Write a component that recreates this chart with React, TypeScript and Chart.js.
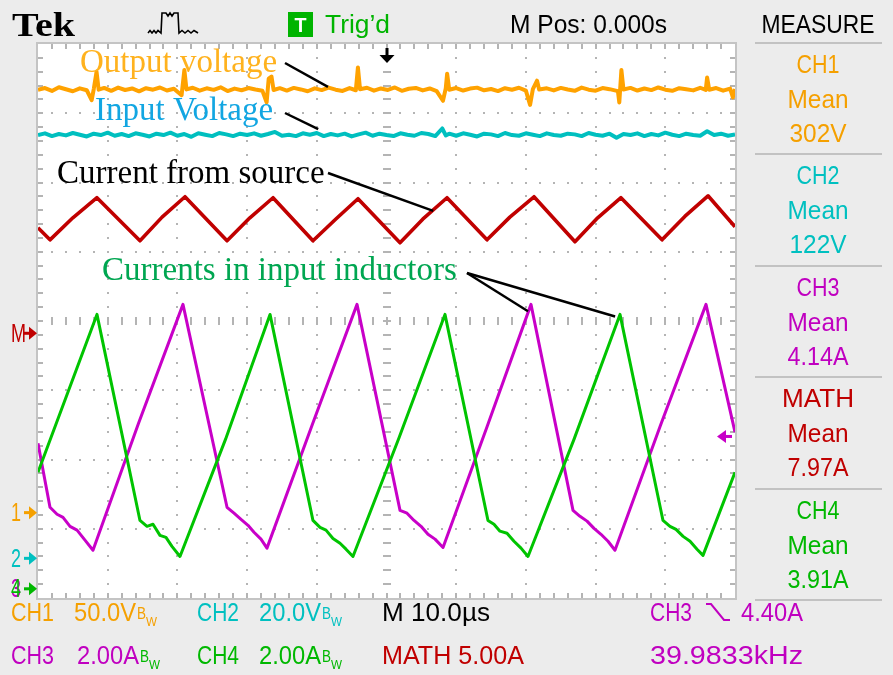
import React, { useEffect, useRef } from "react";
import { Chart, registerables } from "chart.js";

Chart.register(...registerables);

const WIDTH = 893;
const HEIGHT = 675;

// Horizontal: 10 µs/div, 10 divisions, M Pos 0.000s at centre
const TIME_PER_DIV = 10;
const TIME_MIN = -5 * TIME_PER_DIV;
const TIME_MAX = 5 * TIME_PER_DIV;

// Vertical settings: units per division and ground-marker position (divisions from screen centre)
const CH1_PER_DIV = 50;
const CH2_PER_DIV = 20;
const CH3_PER_DIV = 2;
const CH4_PER_DIV = 2;
const MATH_PER_DIV = 5;
const CH1_POS = -2.76;
const CH2_POS = -3.42;
const CH3_POS = -3.86;
const CH4_POS = -3.86;
const MATH_POS = -0.17;

// Trigger: CH3 falling edge
const TRIGGER_LEVEL = 4.4;
const TRIGGER_FREQ = "39.9833kHz";

// CH1 - output voltage (V)
const ch1Time = [
  -50, -49, -48, -47, -46, -45, -44, -43, -42.3, -42, -41.6, -41.3, -40.5, -39.5, -38.5, -37.5,
  -36.5, -35.5, -34.5, -33.5, -32.5, -31.5, -30.5, -29.4, -29, -28.7, -27.8, -26.8, -25.8, -24.8,
  -23.8, -22.8, -21.8, -20.8, -19.8, -18.8, -17.8, -17.2, -16.9, -16.5, -16.2, -15.3, -14.3, -13.3,
  -12.3, -11.3, -10.3, -9.3, -8.3, -7.3, -6.3, -5.3, -4.4, -4.1, -3.8, -2.8, -1.8, -0.8, 0.2, 1.2,
  2.2, 3.2, 4.2, 5.2, 6.2, 7.2, 8.1, 8.5, 8.7, 9, 10, 11, 12, 13, 14, 15, 16, 17, 18, 19, 20, 20.6,
  21, 21.6, 21.9, 23, 24, 25, 26, 27, 28, 29, 30, 31, 32, 33.2, 33.4, 33.7, 34, 35, 36, 37, 38, 39,
  40, 41, 42, 43, 44, 45, 45.8, 46, 46.3, 47.3, 48.3, 49.3, 49.7, 50,
];
const ch1Volts = [
  305.0, 306.2, 304.1, 306.8, 305.3, 303.9, 306.0, 304.6, 297.5, 305.5, 318.0, 305.0, 306.3, 304.2, 306.5, 304.8,
  305.9, 303.8, 306.1, 305.0, 306.6, 304.4, 305.7, 301.0, 319.2, 305.2, 306.4, 304.3, 306.0, 304.9,
  306.7, 304.0, 305.8, 304.6, 306.2, 305.1, 304.2, 295.8, 313.0, 314.5, 304.8, 306.1, 304.4, 306.3,
  305.2, 303.9, 306.0, 304.7, 306.5, 305.0, 304.1, 306.2, 304.6, 321.0, 305.3, 306.4, 304.3, 305.9, 304.8, 306.6,
  304.2, 305.7, 306.3, 304.5, 305.9, 304.0, 297.0, 306.0, 316.5, 305.0, 306.2, 304.4, 305.8, 306.5, 304.6, 305.5, 304.0, 306.1, 305.0, 306.4, 304.3, 294.0,
  305.4, 311.5, 305.2, 306.0, 304.5, 306.3, 305.1, 304.2, 306.5, 305.0, 304.3, 306.2, 305.4, 304.0, 295.8, 319.2, 305.2, 306.3, 304.4, 305.9, 304.7, 306.6,
  305.0, 304.2, 306.1, 305.3, 304.5, 306.4, 304.8, 313.8, 305.0, 306.2, 304.3, 305.8, 299.5, 305.5,
];

// CH2 - input voltage (V)
const ch2Time = [
  -50, -49, -48, -47, -46, -45, -44, -43, -42, -41, -40, -39, -38, -37, -36, -35, -34, -33, -32, -31,
  -30, -29, -28, -27, -26, -25, -24, -23, -22, -21, -20, -19, -18, -17, -16, -15, -14, -13, -12, -11,
  -10, -9, -8, -7, -6, -5, -4, -3, -2, -1, 0, 1, 2, 3, 4, 5, 6, 7, 8, 8.5, 9, 10, 11, 12, 13, 14, 15,
  16, 17, 18, 19, 20, 21, 22, 23, 24, 25, 26, 27, 28, 29, 30, 31, 32, 33, 34, 35, 36, 37, 38, 39, 40,
  41, 42, 43, 44, 45, 46, 47, 48, 49, 50,
];
const ch2Volts = [
  122.1, 122.6, 121.8, 122.4, 122.0, 122.7, 122.2, 121.7, 122.5, 122.1, 122.8, 121.9, 122.4, 121.8, 122.6, 122.2, 121.7, 122.5, 122.1, 122.8,
  121.9, 122.4, 121.6, 122.6, 122.2, 121.8, 122.7, 122.3, 121.8, 122.5, 122.1, 122.6, 121.9, 122.4, 123.0, 121.9, 122.2, 121.8, 122.6, 122.2,
  122.7, 121.8, 122.4, 122.0, 122.5, 121.7, 122.3, 122.8, 121.9, 122.5, 122.1, 121.8, 122.6, 122.2, 121.9, 122.7, 122.4, 121.8, 124.0, 122.0, 122.5, 121.9, 122.6, 122.2, 121.7, 122.5, 122.3,
  121.8, 122.7, 122.1, 121.9, 122.6, 122.2, 121.8, 122.6, 122.1, 121.9, 122.5, 122.3, 121.8, 122.7, 122.2, 121.9, 122.5, 121.3, 122.4, 122.1, 122.6, 121.8, 122.4, 122.0, 122.8,
  122.2, 121.8, 122.5, 122.1, 121.9, 123.2, 122.1, 122.5, 121.9, 122.3,
];

// CH3 - inductor current, phase A (A)
const ch3Time = [
  -50, -48.28, -47.27, -46.41, -45.41, -44.4, -43.26, -42.11, -35.6, -29.2, -22.88, -21.88, -20.87, -19.87,
  -19.01, -18.01, -17.15, -10.6, -4.23, 1.94, 2.94, 3.95, 4.95, 5.95, 6.96, 8.11, 14.4, 20.73, 26.76, 27.76, 28.77,
  29.77, 30.77, 31.78, 32.78, 39.3, 45.84, 50,
];
const ch3Amps = [
  4.19, 2.34, 2.14, 2.05, 1.79, 1.68, 1.39, 1.1, 4.75, 8.2, 2.34, 2.17, 1.99, 1.82,
  1.62, 1.42, 1.16, 4.75, 8.2, 2.25, 2.17, 1.96, 1.79, 1.56, 1.42, 1.18, 4.65, 8.2, 2.25, 2.08, 1.94,
  1.73, 1.56, 1.36, 1.1, 4.7, 8.2, 4.51,
];

// CH4 - inductor current, phase B (A)
const ch4Time = [
  -50, -41.54, -35.37, -34.36, -33.5, -32.5, -31.64, -30.78, -29.63, -23.1, -16.71, -10.55, -9.54, -8.68,
  -7.68, -6.67, -5.81, -4.81, 1.8, 8.39, 14.56, 15.42, 16.28, 17.29, 18.29, 19.3, 20.3, 26.9, 33.5, 39.67,
  40.67, 41.54, 42.55, 43.55, 44.55, 45.41, 50,
];
const ch4Amps = [
  3.35, 7.91, 1.96, 1.79, 1.85, 1.53, 1.47, 1.21, 0.92, 4.3, 7.91, 1.96, 1.76, 1.68,
  1.44, 1.3, 1.13, 0.92, 4.35, 7.91, 1.96, 1.85, 1.65, 1.59, 1.36, 1.16, 0.92, 4.3, 7.91, 1.96,
  1.79, 1.7, 1.5, 1.36, 1.13, 0.95, 3.35,
];

// MATH - current drawn from the source (A)
const mathTime = [
  -50, -48.28, -45.0, -41.54, -35.37, -32.2, -28.91, -22.88, -19.6, -16.28, -10.55, -7.3, -4.09, 1.94,
  5.2, 8.68, 14.42, 17.7, 21.16, 27.04, 30.3, 33.64, 39.53, 42.8, 46.13, 50,
];
const mathAmps = [
  7.58, 6.71, 8.3, 9.75, 6.64, 8.35, 9.82, 6.64, 8.3, 9.75, 6.64, 8.2, 9.68, 6.5,
  8.2, 9.75, 6.71, 8.35, 9.82, 6.57, 8.3, 9.75, 6.71, 8.4, 9.89, 7.65,
];

// MEASURE panel readouts
const measureSources = ["CH1", "CH2", "CH3", "MATH", "CH4"];
const measureValues = ["302V", "122V", "4.14A", "7.97A", "3.91A"];

const C_CH1 = "#ffa200";
const C_CH2 = "#00bfbf";
const C_CH3 = "#c800c8";
const C_CH4 = "#00c400";
const C_MATH = "#c00000";
const T_CH1 = "#f5a000";
const T_CH2 = "#00c0c0";
const T_CH3 = "#c000c0";
const T_CH4 = "#00b800";
const T_MATH = "#c00000";
const SCREEN_BG = "#ececec";
const GRID = "#b4b4b4";
const UI_FONT = "'Liberation Sans', Arial, sans-serif";
const SERIF = "'Liberation Serif', 'Times New Roman', serif";

const measureColors = [T_CH1, T_CH2, T_CH3, T_MATH, T_CH4];

const pairs = (xs: number[], ys: number[]) => xs.map((x, i) => ({ x, y: ys[i] }));

function axisRange(perDiv: number, pos: number) {
  return { min: (-4 - pos) * perDiv, max: (4 - pos) * perDiv };
}

// Draws text squeezed/stretched to a given width
function fitText(
  ctx: CanvasRenderingContext2D,
  s: string,
  x: number,
  y: number,
  font: string,
  color: string,
  width?: number,
  align: "left" | "center" = "left"
) {
  ctx.save();
  ctx.font = font;
  ctx.fillStyle = color;
  ctx.textBaseline = "alphabetic";
  ctx.textAlign = "left";
  const w = ctx.measureText(s).width;
  const sx = width ? width / w : 1;
  const x0 = align === "center" ? x - (w * sx) / 2 : x;
  ctx.translate(x0, y);
  ctx.scale(sx, 1);
  ctx.fillText(s, 0, 0);
  ctx.restore();
}

// Bandwidth-limit badge: B with subscript W
function bwBadge(ctx: CanvasRenderingContext2D, x: number, y: number, color: string) {
  fitText(ctx, "B", x, y - 2, `16px ${UI_FONT}`, color, 9);
  fitText(ctx, "W", x + 9, y + 5, `13px ${UI_FONT}`, color, 11);
}

function drawGraticule(ctx: CanvasRenderingContext2D, a: { left: number; right: number; top: number; bottom: number }) {
  const dx = (a.right - a.left) / 10;
  const dy = (a.bottom - a.top) / 8;
  const cx = a.left + 5 * dx;
  const cy = a.top + 4 * dy;
  ctx.fillStyle = GRID;
  for (let k = 1; k < 10; k++) {
    if (k === 5) continue;
    const x = Math.round(a.left + k * dx);
    for (let j = 1; j < 40; j++) ctx.fillRect(x - 1, Math.round(a.top + (j * dy) / 5) - 1, 2, 2);
  }
  for (let k = 1; k < 8; k++) {
    if (k === 4) continue;
    const y = Math.round(a.top + k * dy);
    for (let j = 1; j < 50; j++) ctx.fillRect(Math.round(a.left + (j * dx) / 5) - 1, y - 1, 2, 2);
  }
  // centre axes with minor ticks
  for (let j = 1; j < 40; j++) ctx.fillRect(Math.round(cx) - 4, Math.round(a.top + (j * dy) / 5) - 1, 8, 2);
  for (let j = 1; j < 50; j++) ctx.fillRect(Math.round(a.left + (j * dx) / 5) - 1, Math.round(cy) - 4, 2, 8);
  // frame ticks
  for (let j = 1; j < 50; j++) {
    const x = Math.round(a.left + (j * dx) / 5);
    ctx.fillRect(x - 1, a.top, 2, 5);
    ctx.fillRect(x - 1, a.bottom - 5, 2, 5);
  }
  for (let j = 1; j < 40; j++) {
    const y = Math.round(a.top + (j * dy) / 5);
    ctx.fillRect(a.left, y - 1, 5, 2);
    ctx.fillRect(a.right - 5, y - 1, 5, 2);
  }
  ctx.strokeStyle = "#c4c4c4";
  ctx.lineWidth = 2;
  ctx.strokeRect(a.left - 1, a.top - 1, a.right - a.left + 2, a.bottom - a.top + 2);
}

function groundMarker(ctx: CanvasRenderingContext2D, label: string, y: number, color: string, arrowColor?: string) {
  fitText(ctx, label, 11, y + 9, `25px ${UI_FONT}`, color, label === "M" ? 15 : 10);
  ctx.fillStyle = arrowColor || color;
  ctx.fillRect(24, y - 1, 6, 3);
  ctx.beginPath();
  ctx.moveTo(29, y - 6);
  ctx.lineTo(37, y + 0.5);
  ctx.lineTo(29, y + 7);
  ctx.closePath();
  ctx.fill();
}

const scopePlugin = {
  id: "scopeScreen",
  beforeDraw(chart: any) {
    const { ctx, chartArea: a } = chart;
    ctx.save();
    ctx.fillStyle = SCREEN_BG;
    ctx.fillRect(0, 0, chart.width, chart.height);
    ctx.fillStyle = "#ffffff";
    ctx.fillRect(a.left, a.top, a.right - a.left, a.bottom - a.top);
    drawGraticule(ctx, a);
    ctx.restore();
  },
  afterDatasetsDraw(chart: any) {
    const { ctx, chartArea: a, scales } = chart;
    const sx = scales.x;
    ctx.save();

    // callouts
    ctx.font = `33px ${SERIF}`;
    ctx.textBaseline = "alphabetic";
    ctx.fillStyle = "#ffb21e";
    ctx.fillText("Output voltage", 80, 72);
    ctx.fillStyle = "#12a6e2";
    ctx.fillText("Input Voltage", 95, 120);
    ctx.fillStyle = "#000000";
    ctx.fillText("Current from source", 57, 183);
    ctx.fillStyle = "#00a651";
    ctx.fillText("Currents in input inductors", 102, 280);

    ctx.strokeStyle = "#000000";
    ctx.lineWidth = 2.5;
    const leader = (x0: number, y0: number, t: number, axis: string, v: number) => {
      ctx.beginPath();
      ctx.moveTo(x0, y0);
      ctx.lineTo(sx.getPixelForValue(t), scales[axis].getPixelForValue(v));
      ctx.stroke();
    };
    leader(285, 63, -8.4, "yCh1", 307);
    leader(285, 113, -9.8, "yCh2", 123.8);
    leader(328, 173, 6.7, "yMath", 8.8);
    leader(467, 273, 20.3, "yCh3", 8.0);
    leader(467, 273, 32.8, "yCh4", 7.85);

    // trigger position arrow
    const tx = sx.getPixelForValue(0);
    ctx.fillStyle = "#000000";
    ctx.fillRect(tx - 1, a.top + 4, 3, 8);
    ctx.beginPath();
    ctx.moveTo(tx - 7, a.top + 11);
    ctx.lineTo(tx + 8, a.top + 11);
    ctx.lineTo(tx + 0.5, a.top + 19);
    ctx.closePath();
    ctx.fill();

    // trigger level arrow (CH3)
    const ty = scales.yCh3.getPixelForValue(TRIGGER_LEVEL);
    ctx.fillStyle = C_CH3;
    ctx.fillRect(a.right - 10, ty - 1, 7, 3);
    ctx.beginPath();
    ctx.moveTo(a.right - 18, ty + 0.5);
    ctx.lineTo(a.right - 9, ty - 6);
    ctx.lineTo(a.right - 9, ty + 7);
    ctx.closePath();
    ctx.fill();

    // ground markers
    const cy = (a.top + a.bottom) / 2;
    const dy = (a.bottom - a.top) / 8;
    groundMarker(ctx, "M", cy - MATH_POS * dy, C_MATH);
    groundMarker(ctx, "1", cy - CH1_POS * dy, T_CH1);
    groundMarker(ctx, "2", cy - CH2_POS * dy, T_CH2);
    groundMarker(ctx, "3", cy - CH3_POS * dy, T_CH3, T_CH4);
    fitText(ctx, "4", 11, cy - CH4_POS * dy + 9, `25px ${UI_FONT}`, T_CH4, 10);
    ctx.restore();
  },
  afterDraw(chart: any) {
    const { ctx } = chart;
    ctx.save();

    // header
    fitText(ctx, "Tek", 12, 36, `bold 33px ${SERIF}`, "#000000", 63);
    ctx.strokeStyle = "#000000";
    ctx.lineWidth = 1.6;
    ctx.beginPath();
    ctx.moveTo(148, 33);
    [150, 152, 154, 156, 158].forEach((x, i) => ctx.lineTo(x, i % 2 ? 33 : 30.5));
    ctx.lineTo(161, 33);
    ctx.lineTo(162, 13);
    ctx.lineTo(166, 13);
    ctx.lineTo(168, 16);
    ctx.lineTo(170, 13);
    ctx.lineTo(172, 16);
    ctx.lineTo(174, 13);
    ctx.lineTo(178, 13);
    ctx.lineTo(179, 33);
    [182, 185, 188, 191, 194].forEach((x, i) => ctx.lineTo(x, i % 2 ? 33 : 30.5));
    ctx.lineTo(198, 33);
    ctx.stroke();

    ctx.fillStyle = "#00b400";
    ctx.fillRect(288, 12, 25, 25);
    fitText(ctx, "T", 300.5, 32, `bold 21px ${UI_FONT}`, "#ffffff", 12, "center");
    fitText(ctx, "Trig’d", 325, 33, `25px ${UI_FONT}`, "#00b400", 65);
    fitText(ctx, "M Pos: 0.000s", 510, 33, `25px ${UI_FONT}`, "#000000", 157);
    fitText(ctx, "MEASURE", 818, 33, `26px ${UI_FONT}`, "#000000", 113, "center");

    // measurement panel
    ctx.strokeStyle = "#c2c2c2";
    ctx.lineWidth = 2;
    for (let k = 0; k <= 5; k++) {
      const y = Math.round(43 + 111.4 * k);
      ctx.beginPath();
      ctx.moveTo(755, y);
      ctx.lineTo(882, y);
      ctx.stroke();
    }
    measureSources.forEach((src, k) => {
      const y0 = 43 + 111.4 * k;
      const col = measureColors[k];
      fitText(ctx, src, 818, y0 + 30, `25px ${UI_FONT}`, col, src.length === 4 ? 72 : 43, "center");
      fitText(ctx, "Mean", 818, y0 + 65, `25px ${UI_FONT}`, col, 61, "center");
      const v = measureValues[k];
      fitText(ctx, v, 818, y0 + 99, `25px ${UI_FONT}`, col, v.length === 4 ? 57 : 61, "center");
    });

    // footer readouts
    const f = `25px ${UI_FONT}`;
    const r1 = 621;
    const r2 = 664;
    fitText(ctx, "CH1", 11, r1, f, T_CH1, 43);
    fitText(ctx, `${CH1_PER_DIV.toFixed(1)}V`, 74, r1, f, T_CH1, 62);
    bwBadge(ctx, 137, r1, T_CH1);
    fitText(ctx, "CH2", 197, r1, f, T_CH2, 42);
    fitText(ctx, `${CH2_PER_DIV.toFixed(1)}V`, 259, r1, f, T_CH2, 62);
    bwBadge(ctx, 322, r1, T_CH2);
    fitText(ctx, `M ${TIME_PER_DIV.toFixed(1)}µs`, 382, r1, f, "#000000", 108);
    fitText(ctx, "CH3", 650, r1, f, T_CH3, 42);
    ctx.strokeStyle = T_CH3;
    ctx.lineWidth = 2;
    ctx.beginPath();
    ctx.moveTo(706, 604);
    ctx.lineTo(711, 604);
    ctx.lineTo(724, 620);
    ctx.lineTo(730, 620);
    ctx.stroke();
    fitText(ctx, `${TRIGGER_LEVEL.toFixed(2)}A`, 741, r1, f, T_CH3, 62);

    fitText(ctx, "CH3", 11, r2, f, T_CH3, 43);
    fitText(ctx, `${CH3_PER_DIV.toFixed(2)}A`, 77, r2, f, T_CH3, 62);
    bwBadge(ctx, 140, r2, T_CH4);
    fitText(ctx, "CH4", 197, r2, f, T_CH4, 42);
    fitText(ctx, `${CH4_PER_DIV.toFixed(2)}A`, 259, r2, f, T_CH4, 62);
    bwBadge(ctx, 322, r2, T_CH4);
    fitText(ctx, `MATH ${MATH_PER_DIV.toFixed(2)}A`, 382, r2, f, T_MATH, 142);
    fitText(ctx, TRIGGER_FREQ, 650, r2, f, T_CH3, 153);
    ctx.restore();
  },
};

export default function App() {
  const canvasRef = useRef<HTMLCanvasElement | null>(null);

  useEffect(() => {
    const canvas = canvasRef.current;
    if (!canvas) return;
    const line = (label: string, data: any, axis: string, color: string, width: number) => ({
      label,
      data,
      yAxisID: axis,
      borderColor: color,
      borderWidth: width,
      pointRadius: 0,
      tension: 0,
      fill: false,
      borderJoinStyle: "round" as const,
    });
    const chart = new Chart(canvas, {
      type: "line",
      data: {
        datasets: [
          line("CH4", pairs(ch4Time, ch4Amps), "yCh4", C_CH4, 3),
          line("CH3", pairs(ch3Time, ch3Amps), "yCh3", C_CH3, 3),
          line("MATH", pairs(mathTime, mathAmps), "yMath", C_MATH, 3.6),
          line("CH2", pairs(ch2Time, ch2Volts), "yCh2", C_CH2, 4),
          line("CH1", pairs(ch1Time, ch1Volts), "yCh1", C_CH1, 4),
        ],
      },
      options: {
        responsive: false,
        maintainAspectRatio: false,
        animation: false,
        events: [],
        layout: { padding: { left: 38, top: 44, right: 158, bottom: 77 } },
        plugins: { legend: { display: false }, tooltip: { enabled: false } },
        scales: {
          x: { type: "linear", min: TIME_MIN, max: TIME_MAX, display: false },
          yCh1: { type: "linear", ...axisRange(CH1_PER_DIV, CH1_POS), display: false },
          yCh2: { type: "linear", ...axisRange(CH2_PER_DIV, CH2_POS), display: false },
          yCh3: { type: "linear", ...axisRange(CH3_PER_DIV, CH3_POS), display: false },
          yCh4: { type: "linear", ...axisRange(CH4_PER_DIV, CH4_POS), display: false },
          yMath: { type: "linear", ...axisRange(MATH_PER_DIV, MATH_POS), display: false },
        },
      },
      plugins: [scopePlugin],
    });
    return () => chart.destroy();
  }, []);

  return (
    <div style={{ position: "absolute", left: 0, top: 0, width: WIDTH, height: HEIGHT }}>
      <canvas ref={canvasRef} width={WIDTH} height={HEIGHT} style={{ display: "block" }} />
    </div>
  );
}
